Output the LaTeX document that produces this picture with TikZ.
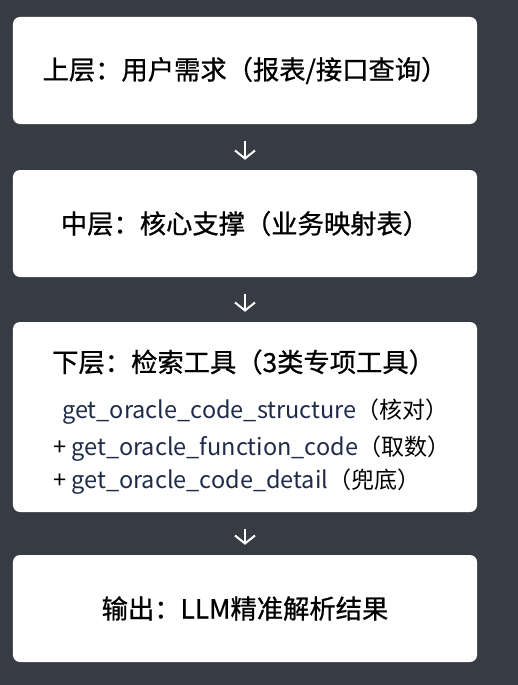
\documentclass[tikz,border=0pt]{standalone}
\usepackage{fontspec}
\setmainfont{Noto Sans CJK SC}
\newfontfamily\titlefont{Noto Sans CJK SC}[FakeBold=0.8]
\usetikzlibrary{arrows.meta}
\definecolor{bgdark}{HTML}{373B43}
\definecolor{codeblue}{HTML}{1F2B48}
\newcommand{\toolnote}[1]{{\fontsize{23bp}{28bp}\selectfont\color{black}（#1）}}

\begin{document}
\begin{tikzpicture}[x=1bp, y=-1bp,
        layerbox/.style={fill=white, rounded corners=7bp, minimum width=464bp, inner sep=0pt},
        title/.style={font=\titlefont\fontsize{26.3bp}{30bp}\selectfont, text=black, inner sep=0pt},
        codeline/.style={font=\fontsize{23.5bp}{28bp}\selectfont, text=codeblue, inner sep=0pt, anchor=base west},
        flow/.style={draw=white, line width=2bp, -{Straight Barb[length=8bp, width=20bp, line width=2bp]}, shorten <=17bp, shorten >=10bp}
    ]
        \fill[bgdark] (0, 0) rectangle (518, 685);
        \useasboundingbox (0, 0) rectangle (518, 685);
        % boxes
        \node[layerbox, minimum height=107bp] (upper) at (245, 70.5) {};
        \node[layerbox, minimum height=107bp] (middle) at (245, 223.5) {};
        \node[layerbox, minimum height=190bp] (lower) at (245, 417) {};
        \node[layerbox, minimum height=107bp] (output) at (245, 608.5) {};
        % texts
        \node[title] (upperText) at (upper) {上层：用户需求（报表/接口查询）};
        \node[title] (middleText) at (middle) {中层：核心支撑（业务映射表）};
        \node[title, anchor=base west] (lowerText) at (52, 372) {下层：检索工具（3类专项工具）};
        \node[codeline] (toolA) at (62, 418) {get\_oracle\_code\_structure\toolnote{核对}};
        \node[codeline] (toolB) at (53, 455) {\textcolor{black}{+} get\_oracle\_function\_code\toolnote{取数}};
        \node[codeline] (toolC) at (53, 488) {\textcolor{black}{+} get\_oracle\_code\_detail\toolnote{兜底}};
        \node[title] (outputText) at (output) {输出：LLM精准解析结果};
        % arrows
        \draw[flow] (upper.south) -- (middle.north);
        \draw[flow] (middle.south) -- (lower.north);
        \draw[flow] (lower.south) -- (output.north);
    \end{tikzpicture}
\end{document}
